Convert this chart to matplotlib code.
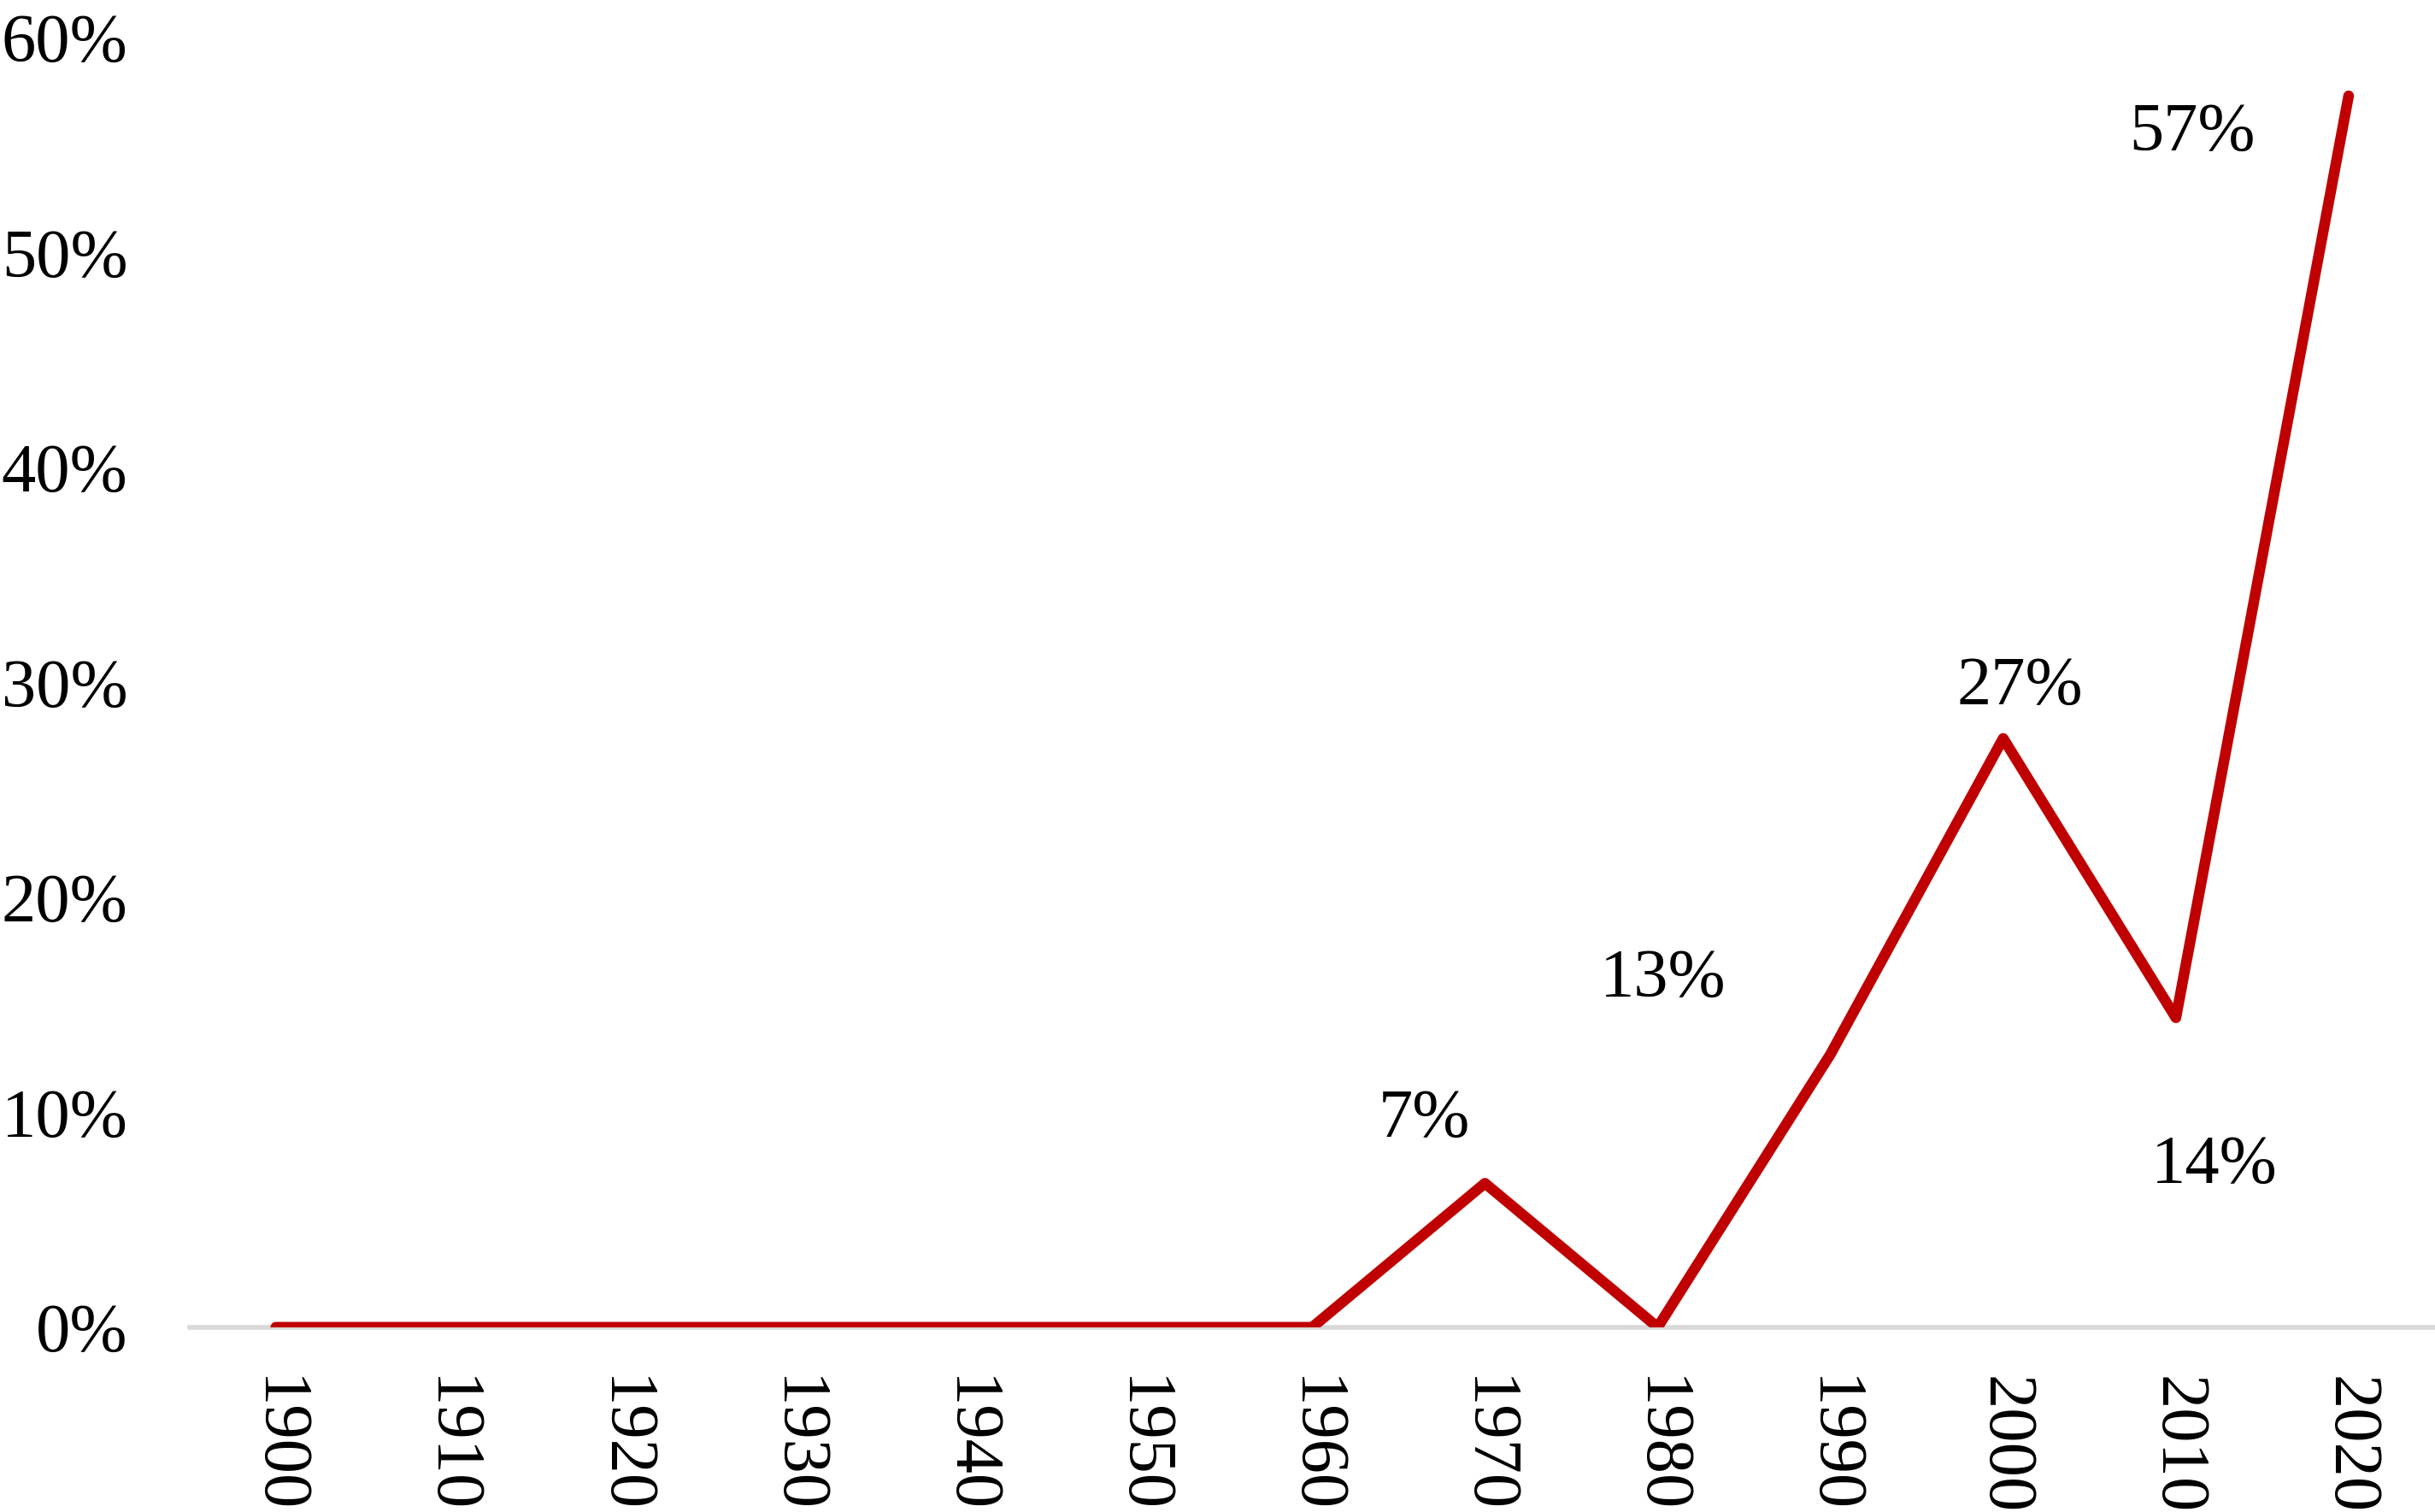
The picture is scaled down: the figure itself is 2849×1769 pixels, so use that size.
import matplotlib
matplotlib.use("Agg")
import matplotlib.pyplot as plt
from matplotlib.ticker import FuncFormatter

plt.rcParams['font.family'] = ['Liberation Serif', 'DejaVu Serif']

years = ['1900', '1910', '1920', '1930', '1940', '1950', '1960',
         '1970', '1980', '1990', '2000', '2010', '2020']
values = [0.0, 0.0, 0.0, 0.0, 0.0, 0.0, 0.0,
          0.067, 0.0, 0.127, 0.274, 0.144, 0.573]
label_text = {7: '7%', 9: '13%', 10: '27%', 11: '14%', 12: '57%'}
label_offsets = {7: (-51, 53), 9: (-141, 63), 10: (14, 43), 11: (32, -125), 12: (-132, -32)}

fig = plt.figure(figsize=(28.49, 17.69), dpi=100)
ax = fig.add_axes([0.0778, 0.1222, 0.9222, 0.8528])

x = list(range(len(years)))
ax.plot(x, values, color='#C00000', lw=9, solid_capstyle='round',
        solid_joinstyle='round', zorder=3)

ax.set_xlim(-0.5, len(years) - 0.5)
ax.set_ylim(0, 0.60)
ax.set_yticks([0, 0.1, 0.2, 0.3, 0.4, 0.5, 0.6])
ax.yaxis.set_major_formatter(FuncFormatter(lambda v, p: f"{v*100:.0f}%"))
ax.set_xticks(x)
ax.set_xticklabels(years, rotation=270, va='top', ha='center')

for s in ['top', 'right', 'left']:
    ax.spines[s].set_visible(False)
ax.spines['bottom'].set_color('#D9D9D9')
ax.spines['bottom'].set_linewidth(4)
ax.spines['bottom'].set_zorder(1)

ax.tick_params(axis='both', length=0, labelsize=58, colors='black')
ax.tick_params(axis='y', pad=52)
ax.tick_params(axis='x', pad=41)

for i, t in label_text.items():
    ax.annotate(t, (x[i], values[i]), xytext=label_offsets[i],
                textcoords='offset points', ha='center', va='center',
                fontsize=58, color='black', annotation_clip=False)

fig.savefig('out.png', dpi=100, facecolor='white')
